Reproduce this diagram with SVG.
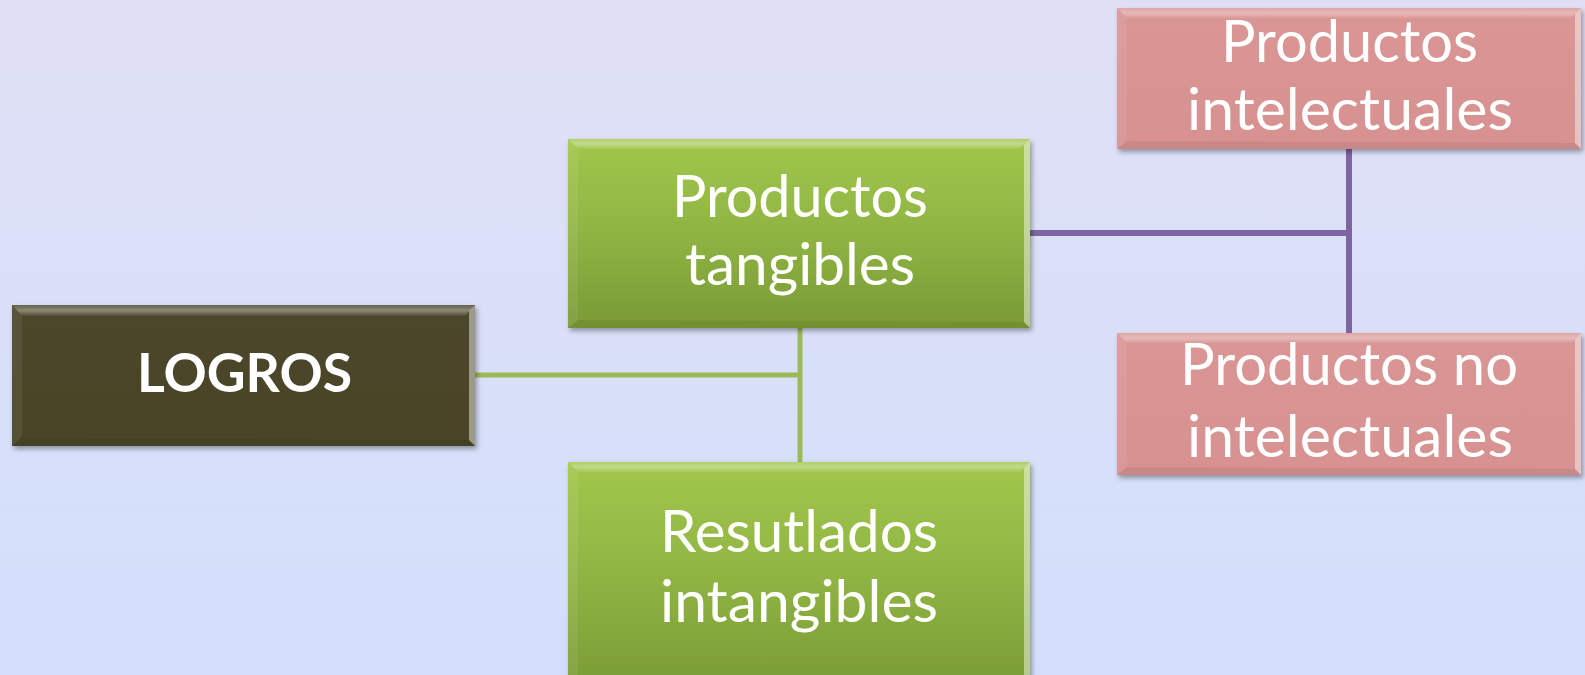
<svg xmlns="http://www.w3.org/2000/svg" width="1585" height="675" viewBox="0 0 1585 675">
<defs>
<linearGradient id="bg" x1="0" y1="0" x2="0" y2="1">
<stop offset="0" stop-color="#E0E0F5"/>
<stop offset="1" stop-color="#D3DFFC"/>
</linearGradient>
<linearGradient id="gGreen" x1="0" y1="0" x2="0" y2="1">
<stop offset="0" stop-color="#A2C74B"/>
<stop offset="0.5" stop-color="#90B443"/>
<stop offset="1" stop-color="#799A35"/>
</linearGradient>
<linearGradient id="gPink" x1="0" y1="0" x2="0" y2="1">
<stop offset="0" stop-color="#DA9695"/>
<stop offset="1" stop-color="#D69190"/>
</linearGradient>
<linearGradient id="gDark" x1="0" y1="0" x2="0" y2="1">
<stop offset="0" stop-color="#4C462A"/>
<stop offset="1" stop-color="#494427"/>
</linearGradient>
<linearGradient id="topB" x1="0" y1="0" x2="0" y2="1">
<stop offset="0" stop-color="#FFFFFF" stop-opacity="0.15"/>
<stop offset="0.5" stop-color="#FFFFFF" stop-opacity="0.35"/>
<stop offset="1" stop-color="#FFFFFF" stop-opacity="0.05"/>
</linearGradient>
<filter id="sh" x="-5%" y="-5%" width="115%" height="120%">
<feDropShadow dx="2" dy="3" stdDeviation="2.5" flood-color="#000" flood-opacity="0.35"/>
</filter>
</defs>
<style>
.t{font-family:Lato,"Liberation Sans",sans-serif;font-size:58px;fill:#FFFFFF;text-anchor:middle}
.b{font-family:Lato,"Liberation Sans",sans-serif;font-size:53px;font-weight:bold;fill:#FFFFFF;text-anchor:middle}
.hi{fill:url(#topB)}
.lf{fill:#FFFFFF;fill-opacity:0.07}
.lo{fill:#000000;fill-opacity:0.06}
.rt{fill:#FFFFFF;fill-opacity:0.45}
.conP{stroke:#7F64A2;stroke-width:6;fill:none}
.conG{stroke:#9BBB59;stroke-width:5;fill:none}
</style>
<rect x="0" y="0" width="1585" height="675" fill="url(#bg)"/>
<g id="connectors">
<path class="conG" d="M475 375 H800 M800 328 V462"/>
<path class="conP" d="M1030 233 H1349 M1349 149 V333"/>
</g>
<g id="logros">
<rect x="12" y="305" width="463" height="141" fill="url(#gDark)" filter="url(#sh)"/>
<polygon class="hi" points="12,305 475,305 465,316 22,316"/>
<polygon class="lf" points="12,305 22,316 22,436 12,446"/>
<polygon class="rt" points="475,305 475,446 469,440 469,311" fill-opacity="0.35"/>
<polygon class="lo" points="12,446 475,446 469,440 22,438"/>
<text class="b" x="244.5" y="392" textLength="215" lengthAdjust="spacingAndGlyphs">LOGROS</text>
</g>
<g id="productos-tangibles">
<rect x="568" y="139" width="462" height="189" fill="url(#gGreen)" filter="url(#sh)"/>
<polygon class="hi" points="568,139 1030,139 1020,149 578,149"/>
<polygon class="lf" points="568,139 578,149 578,320 568,328"/>
<polygon class="rt" points="1030,139 1030,328 1024,322 1024,145"/>
<polygon class="lo" points="568,328 1030,328 1024,322 578,320"/>
<text class="t" x="800" y="217" textLength="256" lengthAdjust="spacingAndGlyphs">Productos</text>
<text class="t" x="800" y="285" textLength="230" lengthAdjust="spacingAndGlyphs">tangibles</text>
</g>
<g id="resultados-intangibles">
<rect x="568" y="462" width="462" height="230" fill="url(#gGreen)" filter="url(#sh)"/>
<polygon class="hi" points="568,462 1030,462 1020,472 578,472"/>
<polygon class="lf" points="568,462 578,472 578,690 568,690"/>
<polygon class="rt" points="1030,462 1030,690 1024,690 1024,468"/>
<text class="t" x="799" y="552" textLength="278" lengthAdjust="spacingAndGlyphs">Resutlados</text>
<text class="t" x="799" y="622" textLength="278" lengthAdjust="spacingAndGlyphs">intangibles</text>
</g>
<g id="productos-intelectuales">
<rect x="1117" y="8" width="464" height="141" fill="url(#gPink)" filter="url(#sh)"/>
<polygon class="hi" points="1117,8 1581,8 1571,18 1127,18"/>
<polygon class="lf" points="1117,8 1127,18 1127,141 1117,149"/>
<polygon class="rt" points="1581,8 1581,149 1575,143 1575,14"/>
<polygon class="lo" points="1117,149 1581,149 1575,143 1127,141"/>
<text class="t" x="1349.5" y="62" textLength="257" lengthAdjust="spacingAndGlyphs">Productos</text>
<text class="t" x="1350" y="130" textLength="326" lengthAdjust="spacingAndGlyphs">intelectuales</text>
</g>
<g id="productos-no-intelectuales">
<rect x="1117" y="333" width="464" height="142" fill="url(#gPink)" filter="url(#sh)"/>
<polygon class="hi" points="1117,333 1581,333 1571,343 1127,343"/>
<polygon class="lf" points="1117,333 1127,343 1127,467 1117,475"/>
<polygon class="rt" points="1581,333 1581,475 1575,469 1575,339"/>
<polygon class="lo" points="1117,475 1581,475 1575,469 1127,467"/>
<text class="t" x="1349" y="385" textLength="338" lengthAdjust="spacingAndGlyphs">Productos no</text>
<text class="t" x="1350" y="457" textLength="326" lengthAdjust="spacingAndGlyphs">intelectuales</text>
</g>
</svg>
